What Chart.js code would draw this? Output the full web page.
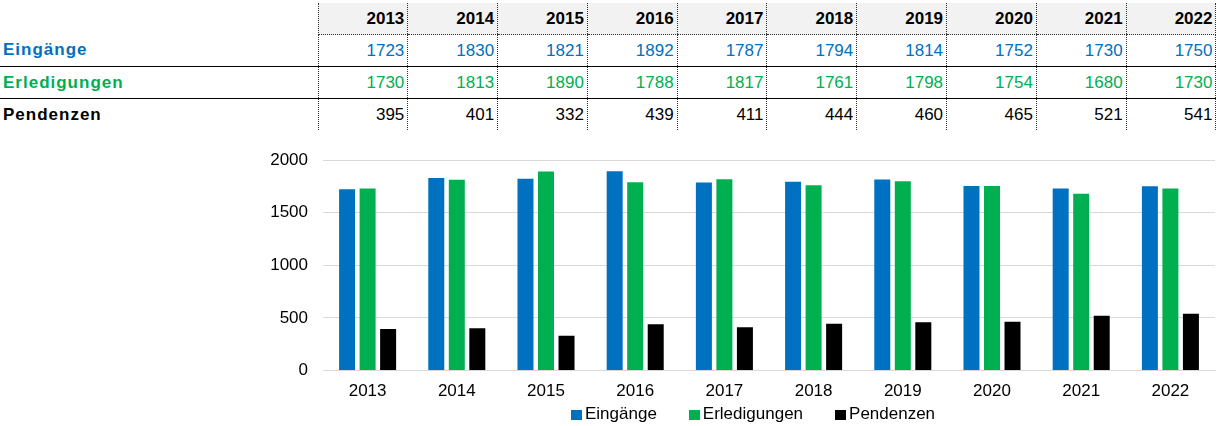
<!DOCTYPE html>
<html lang="de">
<head>
<meta charset="utf-8">
<title>Eingänge, Erledigungen, Pendenzen</title>
<script src="https://cdn.jsdelivr.net/npm/chart.js@4"></script>
<style>
  html, body { margin: 0; padding: 0; background: #fff; }
  body { width: 1225px; height: 426px; position: relative; overflow: hidden;
         font-family: "Liberation Sans", Arial, sans-serif; }
  #tbl { position: absolute; left: 0; top: 3px; border-collapse: collapse;
         table-layout: fixed; width: 1216px; font-size: 17px; }
  #tbl td, #tbl th { padding: 0 3px 0 0; height: 31px; text-align: right;
         border-left: 1px dotted #333; white-space: nowrap; }
  #tbl th { background: #f2f2f2; font-weight: bold; border-bottom: 1px dotted #333; }
  #tbl td.lbl, #tbl th.lbl { text-align: left; padding-left: 3px; font-weight: bold;
         letter-spacing: 1px; border-left: none; background: #fff; border-bottom: none; }
  #tbl tr.row2 td, #tbl tr.row3 td { border-top: 1px solid #000; }
  #tbl td.last, #tbl th.last { border-right: 1px dotted #333; }
  #wrap { position: absolute; left: 0; top: 130px; width: 1225px; height: 275px; }
  #legend { position: absolute; left: 571px; top: 404px; display: flex; gap: 32px;
            font-size: 17px; color: #000; line-height: 20px; }
  #legend .item { display: flex; align-items: center; }
  #legend .box { width: 11px; height: 10px; margin-right: 3px; margin-top: 2px; }
</style>
</head>
<body>
<table id="tbl"></table>
<div id="wrap"><canvas id="chart"></canvas></div>
<div id="legend"></div>
<script>
const years = ['2013', '2014', '2015', '2016', '2017', '2018', '2019', '2020', '2021', '2022'];
const eingaenge = [1723, 1830, 1821, 1892, 1787, 1794, 1814, 1752, 1730, 1750];
const erledigungen = [1730, 1813, 1890, 1788, 1817, 1761, 1798, 1754, 1680, 1730];
const pendenzen = [395, 401, 332, 439, 411, 444, 460, 465, 521, 541];
const yTicks = [0, 500, 1000, 1500, 2000];

const series = [
  { name: 'Eingänge', values: eingaenge, color: '#0070c0' },
  { name: 'Erledigungen', values: erledigungen, color: '#00b050' },
  { name: 'Pendenzen', values: pendenzen, color: '#000000' }
];
const FONT = '"Liberation Sans", Arial, sans-serif';

// data table above the chart
const tbl = document.getElementById('tbl');
let html = '<colgroup><col style="width:318px">' + years.map(() => '<col style="width:89.8px">').join('') + '</colgroup>';
html += '<tr><th class="lbl"></th>' + years.map((y, i) =>
  `<th class="${i === years.length - 1 ? 'last' : ''}">${y}</th>`).join('') + '</tr>';
series.forEach((s, r) => {
  html += `<tr class="row${r + 1}"><td class="lbl" style="color:${s.color}">${s.name}</td>` +
    s.values.map((v, i) => `<td class="${i === years.length - 1 ? 'last' : ''}" style="color:${s.color}">${v}</td>`).join('') +
    '</tr>';
});
tbl.innerHTML = html;

// html legend filled from the chart's own legend items
const htmlLegend = {
  id: 'htmlLegend',
  afterUpdate(chart) {
    const el = document.getElementById('legend');
    const items = chart.options.plugins.legend.labels.generateLabels(chart);
    el.innerHTML = items.map(it =>
      `<span class="item"><span class="box" style="background:${it.fillStyle}"></span>${it.text}</span>`).join('');
  }
};

new Chart(document.getElementById('chart'), {
  type: 'bar',
  data: {
    labels: years,
    datasets: series.map(s => ({
      label: s.name,
      data: s.values,
      backgroundColor: s.color,
      borderWidth: 0
    }))
  },
  options: {
    responsive: true,
    maintainAspectRatio: false,
    animation: false,
    layout: { padding: { top: 30, right: 10, left: 0, bottom: 0 } },
    datasets: { bar: { categoryPercentage: 0.69, barPercentage: 0.78 } },
    plugins: {
      tooltip: { enabled: false },
      legend: { display: false }
    },
    scales: {
      x: {
        grid: { display: false },
        border: { color: '#d9d9d9' },
        ticks: { color: '#000', font: { family: FONT, size: 17 }, padding: 3 }
      },
      y: {
        min: 0, max: 2000,
        afterBuildTicks: scale => { scale.ticks = yTicks.map(v => ({ value: v })); },
        afterFit: scale => { scale.width = 323; },
        grid: { color: '#d9d9d9', drawTicks: false },
        border: { display: false },
        ticks: { color: '#000', font: { family: FONT, size: 17 }, padding: 15, callback: v => String(v) }
      }
    }
  },
  plugins: [htmlLegend]
});
</script>
</body>
</html>
